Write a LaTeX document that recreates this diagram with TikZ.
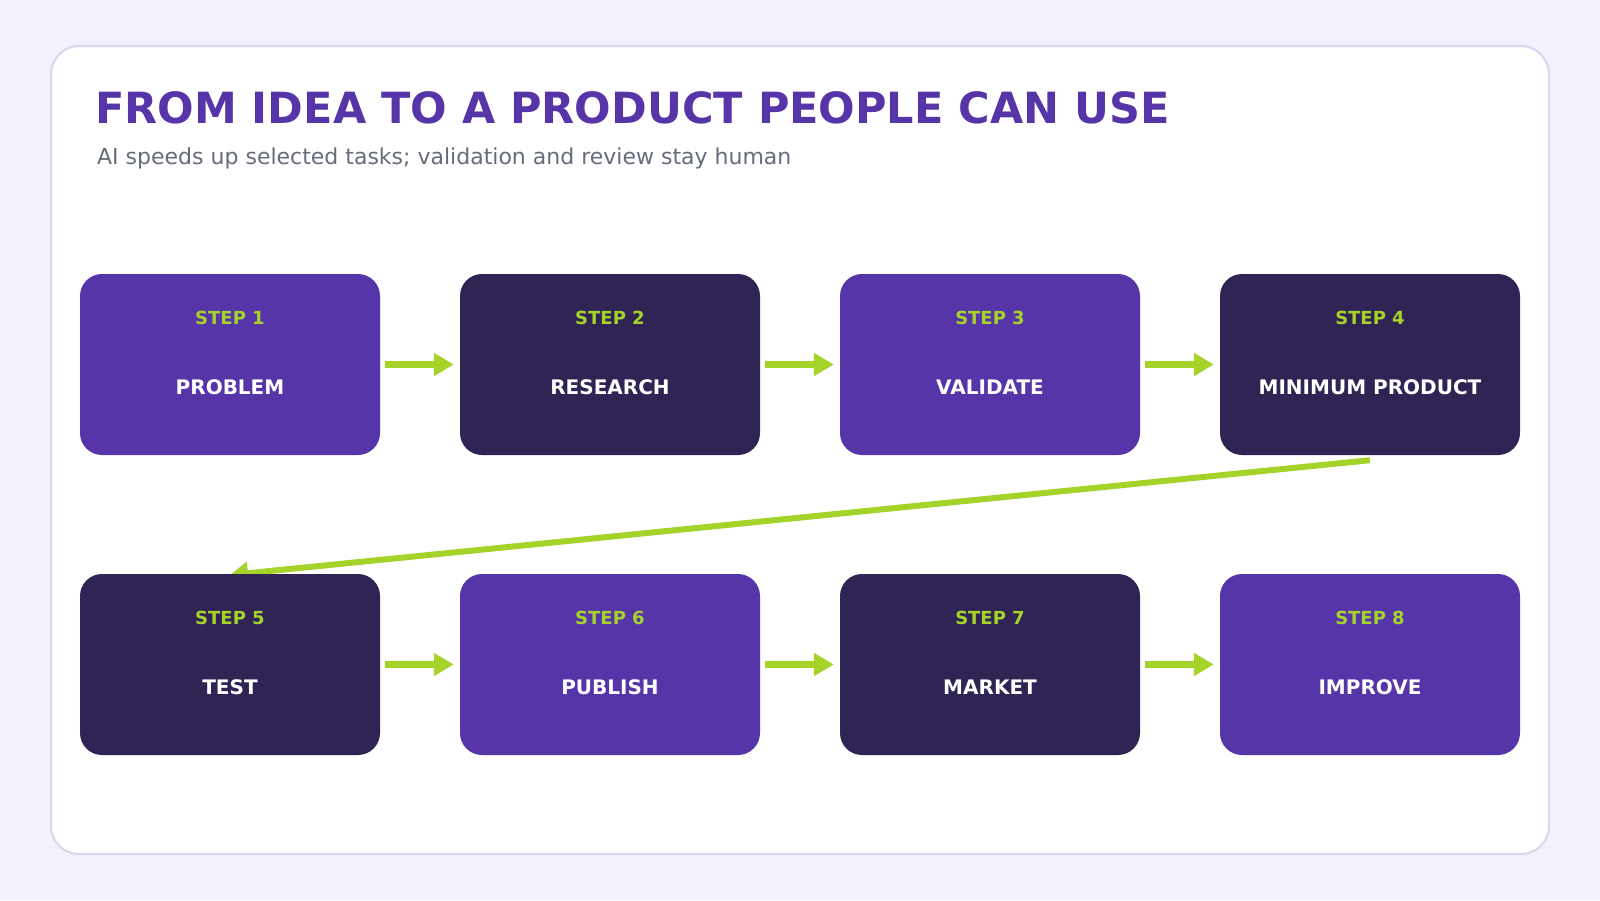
\documentclass[tikz,border=0pt]{standalone}
\usepackage{fontspec}
\setmainfont{DejaVu Sans}
\usetikzlibrary{arrows.meta}
\definecolor{bgc}{HTML}{F3F1FC}
\definecolor{cardborder}{HTML}{D9D5EC}
\definecolor{purp}{HTML}{5535A8}
\definecolor{darkp}{HTML}{2F2453}
\definecolor{lime}{HTML}{A6D32A}
\definecolor{subgray}{HTML}{666C7A}
\tikzset{
  x=1pt, y=-1pt,
  box/.style={rounded corners=22pt, minimum width=300pt, minimum height=181pt, inner sep=0pt, draw=none},
  pbox/.style={box, fill=purp},
  dbox/.style={box, fill=darkp},
  steplbl/.style={anchor=base, text=lime, font=\fontsize{18}{21}\selectfont\bfseries, inner sep=0pt},
  mainlbl/.style={anchor=base, text=white, font=\fontsize{20}{24}\selectfont\bfseries, inner sep=0pt},
  flow/.style={draw=lime, line width=7pt, -{Triangle[length=20pt,width=22pt]}},
  diag/.style={draw=lime, line width=6pt, -{Triangle[length=18pt,width=22pt]}},
}
\begin{document}
\begin{tikzpicture}
\fill[bgc] (0,0) rectangle (1600,900);
\useasboundingbox (0,0) rectangle (1600,900);
\draw[cardborder, line width=2pt, fill=white, rounded corners=28pt] (51,46) rectangle (1549,854);
\node[anchor=base west, inner sep=0pt, text=purp, font=\fontsize{43}{50}\selectfont\bfseries] (title) at (95,123) {FROM IDEA TO A PRODUCT PEOPLE CAN USE};
\node[anchor=base west, inner sep=0pt, text=subgray, font=\fontsize{22}{26}\selectfont] (sub) at (97,164) {AI speeds up selected tasks; validation and review stay human};

\coordinate (d5) at (230,575);
\node[pbox] (b1) at (230,364.5) {};
\node[dbox] (b2) at (610,364.5) {};
\node[pbox] (b3) at (990,364.5) {};
\node[dbox] (b4) at (1370,364.5) {};
\draw[diag] ([yshift=-5pt]b4.south) -- (d5);
\node[dbox] (b5) at (230,664.5) {};
\node[pbox] (b6) at (610,664.5) {};
\node[dbox] (b7) at (990,664.5) {};
\node[pbox] (b8) at (1370,664.5) {};

\foreach \b/\n/\t in {b1/1/PROBLEM, b2/2/RESEARCH, b3/3/VALIDATE, b4/4/MINIMUM PRODUCT, b5/5/TEST, b6/6/PUBLISH, b7/7/MARKET, b8/8/IMPROVE}{
  \node[steplbl] (s\n) at ([yshift=-51pt]\b.north) {STEP \n};
  \node[mainlbl] (m\n) at ([yshift=-121pt]\b.north) {\t};
}

\foreach \a/\c in {b1/b2, b2/b3, b3/b4, b5/b6, b6/b7, b7/b8}{
  \draw[flow] ([xshift=5pt]\a.east) -- ([xshift=-6pt]\c.west);
}
\end{tikzpicture}
\end{document}
